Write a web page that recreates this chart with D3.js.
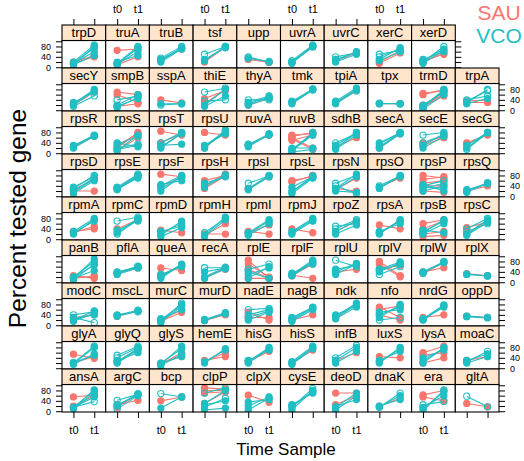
<!DOCTYPE html>
<html><head><meta charset="utf-8">
<script src="https://cdn.jsdelivr.net/npm/d3@7"></script>
<style>body{margin:0;background:#fff}svg{display:block}text{font-family:"Liberation Sans",Arial,sans-serif}</style>
</head><body>
<script>
// ---- data ----
const timeLabels = ["t0", "t1"];
const yTicks = [0, 20, 40, 60, 80, 100];
const yTickLabels = [0, 40, 80];
const seriesNames = ["SAU", "VCO"];
const seriesColors = ["#F8766D", "#1FBFC4"];
const genes = [
  "trpD","truA","truB","tsf","upp","uvrA","uvrC","xerC","xerD",
  "secY","smpB","sspA","thiE","thyA","tmk","tpiA","tpx","trmD","trpA",
  "rpsR","rpsS","rpsT","rpsU","ruvA","ruvB","sdhB","secA","secE","secG",
  "rpsD","rpsE","rpsF","rpsH","rpsI","rpsL","rpsN","rpsO","rpsP","rpsQ",
  "rpmA","rpmC","rpmD","rpmH","rpmI","rpmJ","rpoZ","rpsA","rpsB","rpsC",
  "panB","pflA","queA","recA","rplE","rplF","rplU","rplV","rplW","rplX",
  "modC","mscL","murC","murD","nadE","nagB","ndk","nfo","nrdG","oppD",
  "glyA","glyQ","glyS","hemE","hisG","hisS","infB","luxS","lysA","moaC",
  "ansA","argC","bcp","clpP","clpX","cysE","deoD","dnaK","era","gltA"
];
// each line: [t0 value, t1 value, open symbol (1) or filled (0)]
const sauLines = [
  [[15,40,0],[20,45,0]], [[65,70,0],[10,40,0]], [[30,70,0]], [[20,78,0]], [[30,18,0],[35,20,0]], [[20,80,0]], [[25,55,0]], [[15,55,0],[20,65,0]], [[25,50,0],[20,55,0]],
  [[20,70,0]], [[70,60,0],[15,25,0],[60,30,0]], [[40,28,0]], [[45,75,0],[25,80,0]], [[20,45,0]], [[30,80,0]], [[30,75,0]], [[25,25,0]], [[60,80,0],[65,75,0],[15,55,0],[20,60,0],[10,70,0]], [[30,30,0],[35,40,0]],
  [[25,65,0]], [[20,80,0],[30,75,0],[10,60,0]], [[85,70,0],[40,75,0]], [[80,70,0],[20,85,0]], [[30,70,0]], [[65,80,0],[70,75,0],[55,15,0],[60,20,0],[50,70,0]], [[25,60,0]], [[20,75,0]], [[30,60,0],[40,65,0]], [[40,70,0],[35,72,0]],
  [[20,20,0],[25,65,0]], [[30,80,0]], [[85,75,0],[40,70,0]], [[60,80,0],[30,78,0],[40,85,0]], [[30,75,0]], [[60,75,0],[55,80,0]], [[25,70,0],[30,20,0]], [[35,70,0]], [[80,70,0],[65,75,0],[40,40,0],[20,15,0],[50,60,0]], [[20,40,0]],
  [[30,40,0],[25,50,0]], [[40,75,0]], [[35,25,0]], [[20,20,0],[15,60,0]], [[30,20,0],[25,55,0]], [[40,25,0]], [[30,70,0]], [[55,40,0],[25,70,0]], [[60,75,0],[10,15,0],[40,70,0],[20,30,0]], [[45,65,0],[20,70,0]],
  [[20,17,0],[25,15,0],[15,25,0]], [[35,55,0]], [[55,45,0],[30,60,0]], [[15,55,0],[20,50,0]], [[85,15,0],[70,20,0],[50,15,0],[15,15,0]], [[27,15,0],[25,70,0]], [[40,50,0]], [[70,21,0],[80,25,0],[50,65,0]], [[40,56,0],[35,75,0]], [[33,25,0]],
  [[30,40,0],[20,45,0]], [[35,55,0]], [[20,60,0],[15,50,0]], [[18,40,0],[20,42,0]], [[30,30,0],[50,20,0]], [[20,40,0]], [[30,80,0]], [[70,30,0],[60,75,0],[40,20,0]], [[30,40,0]], [[35,30,0]],
  [[54,38,0],[20,45,0]], [[25,75,0]], [[15,60,0],[20,45,0]], [[25,60,0],[30,45,0]], [[25,65,0]], [[20,70,0]], [[30,60,0]], [[45,40,0]], [[60,85,0],[50,60,0],[20,40,0]], [[30,45,0]],
  [[55,62,0],[20,60,0]], [[25,42,0],[15,65,0]], [[40,55,0]], [[90,85,0],[80,80,0],[70,75,0],[30,75,0]], [[62,35,0]], [[20,75,0]], [[70,70,0],[25,60,0]], [[20,50,0]], [[63,80,0],[55,40,0]], [[30,17,0]]
];
const vcoLines = [
  [[10,80,1],[15,75,0],[20,85,0],[10,45,0],[15,60,0]], [[10,75,0],[15,80,1],[20,45,0],[12,60,0]], [[25,75,0],[35,80,1],[20,70,0],[30,72,0]], [[50,80,1],[25,80,0],[30,75,0]], [[40,20,1],[35,22,0]], [[15,82,0],[20,80,0],[25,85,1],[18,78,0]], [[40,55,1],[25,60,0],[20,50,0],[30,58,0]], [[50,65,1],[40,70,1],[30,75,0],[25,60,0]], [[20,80,1],[25,70,0],[30,60,0],[15,65,0]],
  [[20,75,0],[25,80,0],[15,55,1],[30,70,0]], [[40,55,1],[20,60,0],[10,50,0],[15,45,0]], [[25,25,0],[20,25,1]], [[70,85,1],[20,80,0],[35,40,1],[15,55,0]], [[25,50,0],[30,55,0],[20,45,0],[40,40,1]], [[30,82,0],[35,80,0],[25,78,0]], [[30,80,0],[35,85,0],[25,75,0]], [[25,25,0],[27,25,0]], [[10,80,0],[15,75,0],[20,70,0],[5,60,0]], [[30,80,1],[35,75,1],[40,55,1],[25,45,0]],
  [[20,65,0],[25,70,0],[30,68,0]], [[35,65,1],[15,30,0],[20,35,1],[10,70,0],[40,25,0]], [[40,80,1],[25,75,0],[30,35,0],[20,78,0]], [[25,80,0],[20,90,0],[30,75,0],[28,85,0]], [[25,72,0],[30,75,0],[35,70,0]], [[10,80,1],[15,75,0],[20,20,0],[5,15,1],[10,70,0]], [[20,78,0],[30,80,0],[15,70,0],[40,75,1]], [[25,78,0],[35,80,0],[20,75,0],[40,78,0]], [[70,80,1],[30,75,0],[20,65,0],[40,70,1]], [[20,80,0],[15,78,1],[30,80,0]],
  [[30,80,1],[20,70,0],[15,65,1],[10,60,0],[35,75,0]], [[30,80,1],[25,75,0],[35,85,0],[30,70,0]], [[40,80,1],[30,75,1],[20,78,0],[45,60,0]], [[40,82,0],[35,80,0],[50,75,0]], [[50,78,1],[30,80,0],[25,75,0]], [[15,78,0],[20,72,0],[35,75,0],[10,70,0]], [[30,85,0],[25,75,0],[40,10,1],[20,15,0],[50,80,1]], [[40,78,1],[30,80,0],[35,75,0]], [[40,60,1],[30,50,1],[20,40,0],[45,20,0],[35,30,1]], [[15,50,0],[20,52,0],[25,48,0]],
  [[20,75,0],[25,70,0],[30,80,0]], [[70,85,1],[25,80,0],[20,75,1],[35,70,0]], [[25,60,1],[15,70,0],[10,45,0],[30,50,0]], [[25,80,1],[15,85,0],[10,75,0]], [[20,70,0],[25,75,0],[15,60,0]], [[25,75,0],[30,80,0],[20,70,0]], [[40,75,1],[30,70,0],[20,55,0],[50,60,1]], [[20,75,0],[25,70,1],[30,60,0]], [[25,75,0],[30,70,1],[35,25,0],[20,60,0]], [[40,80,1],[20,75,0],[15,65,0],[30,60,1]],
  [[15,90,0],[20,80,0],[10,70,0],[15,45,0],[20,65,0]], [[35,60,0],[30,55,0],[40,58,0],[35,62,0]], [[20,70,0],[25,65,0],[30,60,0],[15,68,0]], [[56,56,1],[40,55,0],[20,58,0],[15,52,0]], [[50,70,1],[30,55,0],[15,60,0],[40,15,0]], [[27,80,0],[25,75,0],[30,85,0],[35,70,0]], [[85,60,1],[40,73,0],[30,70,0],[50,65,0]], [[50,78,0],[40,75,0],[30,60,1],[45,70,0]], [[40,78,0],[35,80,0],[38,75,0]], [[31,25,0],[30,24,0]],
  [[40,52,1],[20,55,0],[30,10,1],[15,45,0],[25,40,0]], [[40,52,1],[35,55,0],[38,58,0]], [[15,85,1],[20,80,0],[10,75,0],[25,60,0]], [[20,46,0],[22,48,0],[18,44,0]], [[60,65,1],[40,60,0],[30,55,0],[20,50,0]], [[20,65,0],[25,70,0],[15,60,0],[30,68,0]], [[30,80,0],[35,85,0],[25,70,0],[40,75,0]], [[40,70,0],[20,30,1],[30,80,0],[50,60,0]], [[20,75,0],[25,78,0],[22,70,0]], [[35,30,0],[33,28,0]],
  [[20,85,0],[18,80,0],[22,50,0],[15,55,0]], [[50,85,1],[40,80,1],[20,70,0],[30,60,0],[25,75,0]], [[15,85,0],[20,75,0],[10,55,0],[18,45,0]], [[20,75,0],[25,70,0]], [[20,75,0],[25,80,0],[30,70,0]], [[20,80,0],[25,85,0],[15,75,0]], [[30,80,0],[20,65,0],[40,88,1]], [[20,80,0],[30,65,0],[25,75,1]], [[20,80,0],[30,75,0],[40,70,0]], [[25,65,1],[30,55,0],[20,45,0]],
  [[12,82,1],[15,80,0],[10,70,0],[15,37,1],[14,55,0]], [[42,65,1],[20,68,0],[8,60,1],[25,62,0]], [[68,55,1],[12,55,0]], [[70,90,1],[30,80,0],[15,50,1],[25,40,0],[5,12,0]], [[35,45,0],[20,55,0],[5,50,0]], [[5,80,0],[15,88,1],[25,70,0],[20,75,0]], [[15,70,0],[5,60,0],[18,45,0]], [[17,60,0],[20,45,0],[15,70,1]], [[0,82,1],[10,75,0],[25,37,1],[15,60,0]], [[58,17,1]]
];

// ---- layout ----
const W = 524, H = 461;
const gridLeft = 62, colW = 43.7, gridTop = 25, rowH = 43.0, stripH = 15.5;
const nCols = 10, nRows = 9;

const svg = d3.select("body").append("svg").attr("width", W).attr("height", H);

function cellPos(i) {
  let row, col;
  if (i < 9) { row = 0; col = i; } else { const k = i - 9; row = 1 + Math.floor(k / 10); col = k % 10; }
  return {row, col};
}

function styleAxis(sel, ax, fs) {
  sel.call(ax);
  sel.select(".domain").remove();
  sel.selectAll("text").attr("font-size", fs).attr("fill", "#000");
  sel.selectAll("text").filter(function () { return this.textContent === ""; }).remove();
  sel.selectAll("line").attr("stroke", "#000");
}

genes.forEach((g, i) => {
  const {row, col} = cellPos(i);
  const x0 = gridLeft + col * colW, x1 = x0 + colW;
  const sTop = gridTop + row * rowH, pTop = sTop + stripH, pBot = sTop + rowH;
  const x = d3.scalePoint().domain(timeLabels).range([x0, x1]).padding(0.55);
  const y = d3.scaleLinear().domain([-3, 103]).range([pBot, pTop]);
  const gp = svg.append("g");
  gp.append("rect").attr("x", x0).attr("y", pTop).attr("width", colW).attr("height", pBot - pTop).attr("fill", "#fff");
  const clipId = "clip" + i;
  svg.append("clipPath").attr("id", clipId).append("rect").attr("x", x0).attr("y", pTop).attr("width", colW).attr("height", pBot - pTop);
  const gd = gp.append("g").attr("clip-path", `url(#${clipId})`);
  [sauLines[i], vcoLines[i]].forEach((lines, s) => {
    const c = seriesColors[s];
    lines.forEach(l => {
      const pts = [[timeLabels[0], l[0]], [timeLabels[1], l[1]]];
      gd.append("path").attr("d", d3.line().x(d => x(d[0])).y(d => y(d[1]))(pts))
        .attr("fill", "none").attr("stroke", c).attr("stroke-width", 1.1);
      pts.forEach(p => {
        gd.append("circle").attr("cx", x(p[0])).attr("cy", y(p[1])).attr("r", 3.1)
          .attr("fill", l[2] ? "none" : c).attr("stroke", c).attr("stroke-width", 1.1);
      });
    });
  });
  gp.append("rect").attr("x", x0).attr("y", pTop).attr("width", colW).attr("height", pBot - pTop)
    .attr("fill", "none").attr("stroke", "#000").attr("stroke-width", 1.1);
  // strip
  gp.append("rect").attr("x", x0).attr("y", sTop).attr("width", colW).attr("height", stripH)
    .attr("fill", "#FFE5CC").attr("stroke", "#000").attr("stroke-width", 1.1);
  gp.append("text").attr("x", x0 + colW / 2).attr("y", sTop + stripH / 2 + 4.6)
    .attr("text-anchor", "middle").attr("font-size", 13).attr("fill", "#000").text(g);

  if (row === 0) {
    const ax = d3.axisTop(x).tickSize(6).tickPadding(6).tickFormat(d => col % 2 === 1 ? d : "");
    svg.append("g").attr("transform", `translate(0,${sTop})`).call(sel => styleAxis(sel, ax, 11));
  }
  if (row === nRows - 1) {
    const ax = d3.axisBottom(x).tickSize(6).tickPadding(8).tickFormat(d => col % 2 === 0 ? d : "");
    svg.append("g").attr("transform", `translate(0,${pBot})`).call(sel => styleAxis(sel, ax, 11));
  }
  if (col === 0) {
    const ax = d3.axisLeft(y).tickValues(yTicks).tickSize(6).tickPadding(5)
      .tickFormat(d => (row % 2 === 0 && yTickLabels.includes(d)) ? d : "");
    svg.append("g").attr("transform", `translate(${x0},0)`).call(sel => styleAxis(sel, ax, 9));
  }
  const lastInRow = (row === 0) ? (col === 8) : (col === nCols - 1);
  if (lastInRow) {
    const ax = d3.axisRight(y).tickValues(yTicks).tickSize(6).tickPadding(5)
      .tickFormat(d => (row % 2 === 1 && yTickLabels.includes(d)) ? d : "");
    svg.append("g").attr("transform", `translate(${x1},0)`).call(sel => styleAxis(sel, ax, 9));
  }
});

// titles
svg.append("text").attr("transform", `translate(26,${(gridTop + gridTop + nRows * rowH) / 2}) rotate(-90)`)
  .attr("text-anchor", "middle").attr("font-size", 24.5).attr("fill", "#000").text("Percent tested gene");
svg.append("text").attr("x", 286).attr("y", 455).attr("text-anchor", "middle").attr("font-size", 17).attr("fill", "#000").text("Time Sample");

// legend
seriesNames.forEach((n, i) => {
  svg.append("text").attr("x", 499).attr("y", 20 + i * 23).attr("text-anchor", "middle")
    .attr("font-size", 21).attr("fill", seriesColors[i]).text(n);
});
</script>
</body></html>
